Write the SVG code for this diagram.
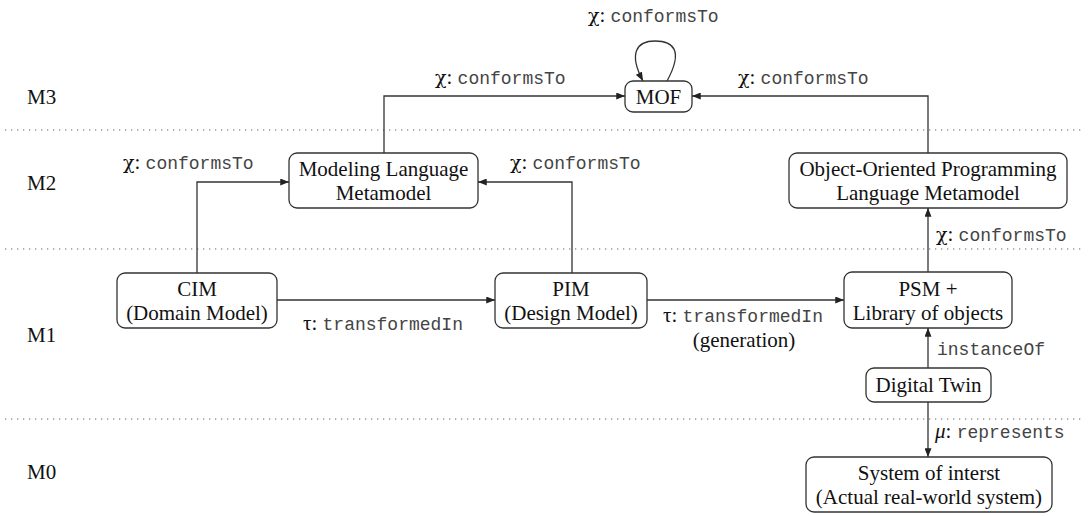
<svg xmlns="http://www.w3.org/2000/svg" width="1088" height="516" viewBox="0 0 1088 516">
  <defs>
    <marker id="arrow" viewBox="0 0 10 8" refX="10" refY="4" markerWidth="9" markerHeight="7" markerUnits="userSpaceOnUse" orient="auto">
      <path d="M0,0 L10,4 L0,8 Z" fill="#222"/>
    </marker>
    <style>
      .box { fill: #fff; stroke: #333; stroke-width: 1.3; }
      .node { font-family: "Liberation Serif", "Times New Roman", serif; font-size: 21px; fill: #111; text-anchor: middle; }
      .level { font-family: "Liberation Serif", "Times New Roman", serif; font-size: 21px; fill: #111; }
      .edge { fill: none; stroke: #333; stroke-width: 1.3; marker-end: url(#arrow); }
      .sep { stroke: #999; stroke-width: 1.3; stroke-dasharray: 1.3 4.7; }
      .lbl { font-family: "Liberation Serif", "Times New Roman", serif; font-size: 21px; fill: #111; }
      .tt { font-family: "Liberation Mono", "Courier New", monospace; font-size: 18px; fill: #444; }
      .greek { font-family: "DejaVu Serif", "Liberation Serif", serif; font-size: 19px; }
    </style>
  </defs>

  <!-- level separators -->
  <g id="separators">
    <line class="sep" x1="5" y1="130" x2="1084" y2="130"/>
    <line class="sep" x1="5" y1="249" x2="1084" y2="249"/>
    <line class="sep" x1="5" y1="419" x2="1084" y2="419"/>
  </g>

  <!-- level names -->
  <g id="levels">
    <text class="level" x="27" y="104">M3</text>
    <text class="level" x="27" y="190">M2</text>
    <text class="level" x="27" y="342">M1</text>
    <text class="level" x="27" y="479">M0</text>
  </g>

  <!-- connectors -->
  <g id="connectors">
    <path class="edge" d="M667,81 C684,50 673,41 655,41 C637,41 628,53 643,81"/>
    <path class="edge" d="M384,153 V96 H625"/>
    <path class="edge" d="M928,153 V96 H692"/>
    <path class="edge" d="M197,273 V182 H289"/>
    <path class="edge" d="M572,273 V182 H478"/>
    <path class="edge" d="M277,300 H495"/>
    <path class="edge" d="M647,300 H844"/>
    <path class="edge" d="M928,272 V208"/>
    <path class="edge" d="M928,368 V328"/>
    <path class="edge" d="M928,402 V457"/>
  </g>

  <!-- connector labels -->
  <g id="labels">
    <text x="588" y="22"><tspan class="lbl greek">χ</tspan><tspan class="lbl">: </tspan><tspan class="tt">conformsTo</tspan></text>
    <text x="435" y="84"><tspan class="lbl greek">χ</tspan><tspan class="lbl">: </tspan><tspan class="tt">conformsTo</tspan></text>
    <text x="738" y="84"><tspan class="lbl greek">χ</tspan><tspan class="lbl">: </tspan><tspan class="tt">conformsTo</tspan></text>
    <text x="123" y="169"><tspan class="lbl greek">χ</tspan><tspan class="lbl">: </tspan><tspan class="tt">conformsTo</tspan></text>
    <text x="510" y="169"><tspan class="lbl greek">χ</tspan><tspan class="lbl">: </tspan><tspan class="tt">conformsTo</tspan></text>
    <text x="936" y="241"><tspan class="lbl greek">χ</tspan><tspan class="lbl">: </tspan><tspan class="tt">conformsTo</tspan></text>
    <text x="303" y="330"><tspan class="lbl">τ: </tspan><tspan class="tt">transformedIn</tspan></text>
    <text x="663" y="322"><tspan class="lbl">τ: </tspan><tspan class="tt">transformedIn</tspan></text>
    <text class="node" x="744" y="347">(generation)</text>
    <text class="tt" x="937" y="355">instanceOf</text>
    <text x="935" y="438"><tspan class="lbl" font-style="italic">μ</tspan><tspan class="lbl">: </tspan><tspan class="tt">represents</tspan></text>
  </g>

  <!-- nodes -->
  <g id="mof">
    <rect class="box" x="625" y="81" width="67" height="31" rx="8"/>
    <text class="node" x="658.5" y="104">MOF</text>
  </g>
  <g id="modeling-language-metamodel">
    <rect class="box" x="289" y="153" width="189" height="55" rx="8"/>
    <text class="node" x="383.5" y="176">Modeling Language</text>
    <text class="node" x="383.5" y="200">Metamodel</text>
  </g>
  <g id="oop-language-metamodel">
    <rect class="box" x="789" y="153" width="278" height="55" rx="8"/>
    <text class="node" x="928" y="176">Object-Oriented Programming</text>
    <text class="node" x="928" y="200">Language Metamodel</text>
  </g>
  <g id="cim">
    <rect class="box" x="117" y="273" width="160" height="55" rx="8"/>
    <text class="node" x="197" y="296">CIM</text>
    <text class="node" x="197" y="320">(Domain Model)</text>
  </g>
  <g id="pim">
    <rect class="box" x="495" y="273" width="152" height="55" rx="8"/>
    <text class="node" x="571" y="296">PIM</text>
    <text class="node" x="571" y="320">(Design Model)</text>
  </g>
  <g id="psm">
    <rect class="box" x="844" y="272" width="168" height="56" rx="8"/>
    <text class="node" x="928" y="296">PSM +</text>
    <text class="node" x="928" y="320">Library of objects</text>
  </g>
  <g id="digital-twin">
    <rect class="box" x="866" y="368" width="125" height="34" rx="8"/>
    <text class="node" x="928.5" y="392">Digital Twin</text>
  </g>
  <g id="system-of-interest">
    <rect class="box" x="806" y="457" width="246" height="55" rx="8"/>
    <text class="node" x="929" y="480">System of interst</text>
    <text class="node" x="929" y="504">(Actual real-world system)</text>
  </g>
</svg>
